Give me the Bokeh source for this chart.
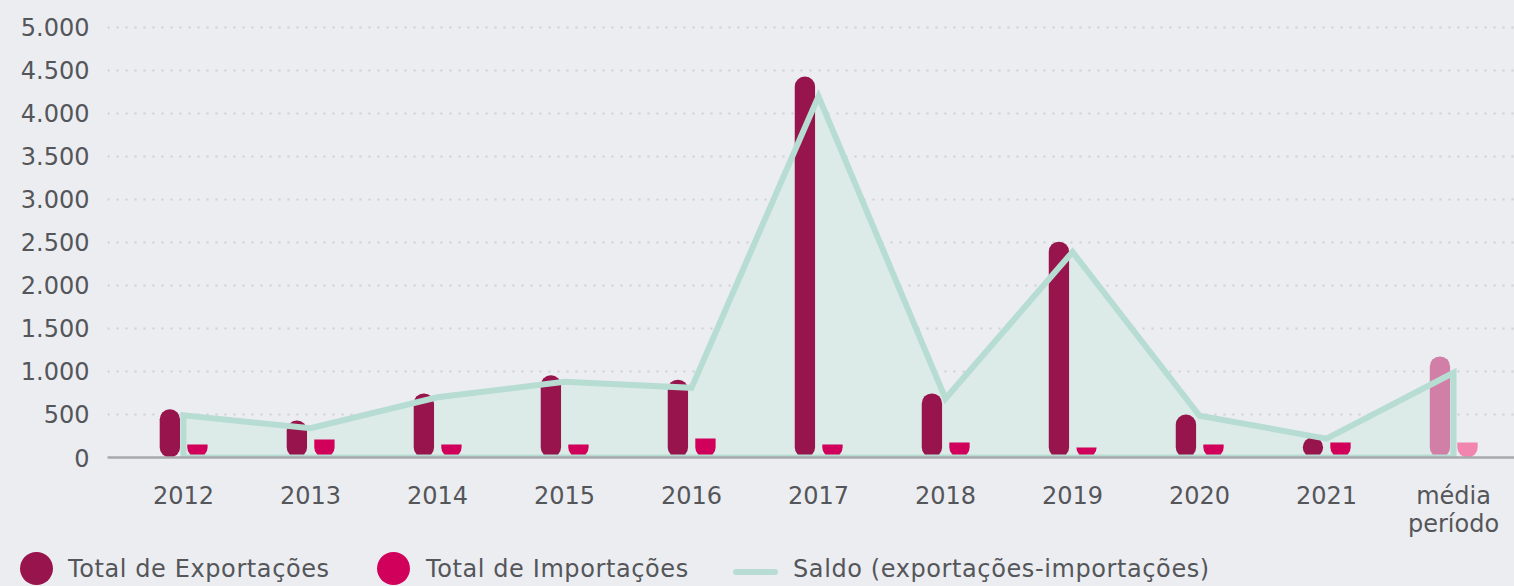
from bokeh.plotting import figure
from bokeh.models import Range1d, FixedTicker, ColumnDataSource, Div
from bokeh.layouts import column
from bokeh.embed import file_html
from bokeh.resources import INLINE
from bokeh.transform import dodge

# ---------------- data ----------------
categories = ["2012", "2013", "2014", "2015", "2016", "2017", "2018", "2019",
              "2020", "2021", "média\nperíodo"]
exports = [560, 430, 745, 955, 905, 4430, 745, 2510, 500, 235, 1175]
imports = [150, 210, 150, 150, 220, 150, 175, 115, 150, 175, 175]
saldo = [490, 340, 700, 880, 810, 4200, 685, 2390, 485, 220, 985]
y_ticks = [0, 500, 1000, 1500, 2000, 2500, 3000, 3500, 4000, 4500, 5000]
y_tick_labels = ["0", "500", "1.000", "1.500", "2.000", "2.500", "3.000",
                 "3.500", "4.000", "4.500", "5.000"]
legend_labels = ["Total de Exportações", "Total de Importações",
                 "Saldo (exportações-importações)"]

# ---------------- styles ----------------
FONT = "DejaVu Sans"
BG = "#ECEDF1"
TXT = "#54565A"
EXP = "#97144D"
EXP_AVG = "#D27FA8"
IMP = "#D1005A"
IMP_AVG = "#F285AF"
AREA = "#DCEBE8"
LINE = "#B7DDD3"
W = 1514

avg_label = categories[-1]
xs = list(range(len(categories)))
src = ColumnDataSource(dict(
    x=xs,
    exports=exports,
    imports=imports,
    exp_color=[EXP_AVG if c == avg_label else EXP for c in categories],
    imp_color=[IMP_AVG if c == avg_label else IMP for c in categories],
))

p = figure(width=W, height=540,
           x_range=Range1d(-0.598, 10.48), y_range=Range1d(0, 5116),
           output_backend="svg", toolbar_location=None,
           min_border_left=107, min_border_right=0,
           min_border_top=17, min_border_bottom=83)
p.background_fill_color = BG
p.border_fill_color = BG
p.outline_line_color = None

# area fill for saldo (beneath bars)
area_x = [xs[0]] + xs + [xs[-1]]
area_y = [0] + saldo + [0]
p.patch(area_x, area_y, fill_color=AREA, line_color=None)

# bars
p.vbar(x=dodge("x", -0.107), top="exports", bottom=0, width=0.16, source=src,
       fill_color="exp_color", line_color=None, border_radius=10)
p.vbar(x=dodge("x", 0.11), top="imports", bottom=0, width=0.16, source=src,
       fill_color="imp_color", line_color=None, border_radius=(0, 0, 10, 10))

# saldo outline on top
p.patch(area_x, area_y, fill_color=None, line_color=LINE, line_width=6,
        line_join="miter")

# axes
p.xaxis.ticker = FixedTicker(ticks=xs)
p.xaxis.major_label_overrides = {i: c for i, c in zip(xs, categories)}
p.xaxis.axis_line_color = "#A8A9AD"
p.xaxis.axis_line_width = 2.5
p.xaxis.major_tick_line_color = None
p.xaxis.minor_tick_line_color = None
p.xaxis.major_tick_out = 0
p.xaxis.major_label_standoff = 24
p.xaxis.major_label_text_font = FONT
p.xaxis.major_label_text_font_size = "24px"
p.xaxis.major_label_text_color = TXT
p.xaxis.major_label_text_line_height = 1.0

p.yaxis.ticker = FixedTicker(ticks=y_ticks)
p.yaxis.major_label_overrides = {t: l for t, l in zip(y_ticks, y_tick_labels)}
p.yaxis.axis_line_color = None
p.yaxis.major_tick_line_color = None
p.yaxis.minor_tick_line_color = None
p.yaxis.major_tick_out = 0
p.yaxis.major_label_standoff = 18
p.yaxis.major_label_text_font = FONT
p.yaxis.major_label_text_font_size = "24px"
p.yaxis.major_label_text_color = TXT

p.xgrid.grid_line_color = None
p.ygrid.ticker = FixedTicker(ticks=y_ticks)
p.ygrid.grid_line_color = "#CDCFD4"
p.ygrid.grid_line_width = 2
p.ygrid.grid_line_dash = "2 7"

# ---------------- legend strip (HTML) ----------------
swatches = [
    ("circle", EXP, 20, 68),
    ("circle", IMP, 377, 426),
    ("line", LINE, 733, 793),
]
parts = []
for (kind, color, sx, tx), label in zip(swatches, legend_labels):
    if kind == "circle":
        parts.append(
            '<span style="position:absolute;left:%dpx;top:12px;width:33px;height:33px;'
            'border-radius:50%%;background:%s;"></span>' % (sx, color))
    else:
        parts.append(
            '<span style="position:absolute;left:%dpx;top:29px;width:45px;height:6px;'
            'border-radius:3px;background:%s;"></span>' % (sx, color))
    parts.append(
        '<span style="position:absolute;left:%dpx;top:17px;line-height:24px;'
        'letter-spacing:0.6px;white-space:nowrap;">%s</span>' % (tx, label))
legend_html = ('<div style="position:relative;width:%dpx;height:46px;'
               'font-family:\'%s\';font-size:24px;color:%s;">%s</div>'
               % (W, FONT, TXT, "".join(parts)))
lg = Div(text=legend_html, width=W, height=46, margin=(0, 0, 0, 0),
         styles={"background-color": BG})

layout = column(p, lg)
html = file_html(layout, INLINE)
html = html.replace("<body>", '<body style="background-color:%s;">' % BG)
open("out.html", "w").write(html)
